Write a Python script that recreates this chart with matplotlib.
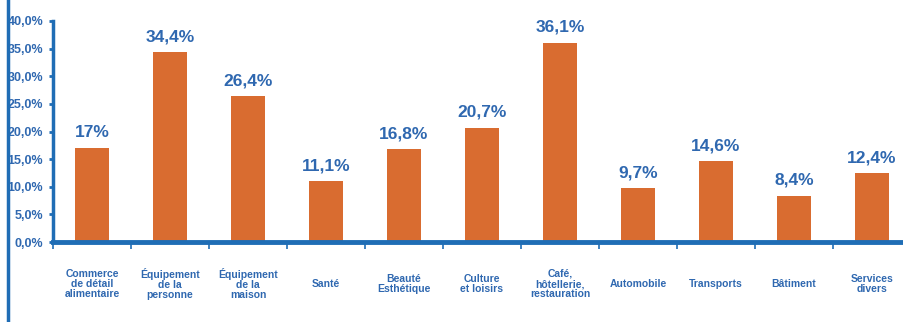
import matplotlib.pyplot as plt
from matplotlib.lines import Line2D
import numpy as np

categories = ['Commerce\nde détail\nalimentaire', 'Équipement\nde la\npersonne', 'Équipement\nde la\nmaison',
              'Santé', 'Beauté\nEsthétique', 'Culture\net loisirs', 'Café,\nhôtellerie,\nrestauration',
              'Automobile', 'Transports', 'Bâtiment', 'Services\ndivers']
values = [17.0, 34.4, 26.4, 11.1, 16.8, 20.7, 36.1, 9.7, 14.6, 8.4, 12.4]
value_labels = ['17%', '34,4%', '26,4%', '11,1%', '16,8%', '20,7%', '36,1%', '9,7%', '14,6%', '8,4%', '12,4%']
yticks = [0, 5, 10, 15, 20, 25, 30, 35, 40]

blue = '#1f6db5'
text_blue = '#2f68b0'
orange = '#d96c30'

plt.rcParams['font.family'] = ['Liberation Sans', 'DejaVu Sans']

fig = plt.figure(figsize=(9.04, 3.22), dpi=100)
ax = fig.add_axes([0.0586, 0.2484, 0.949, 0.6864])

x = np.arange(len(values))
ax.bar(x, values, width=0.44, color=orange, zorder=2)

for xi, v, lab in zip(x, values, value_labels):
    ax.annotate(lab, (xi, v), xytext=(0, 5.5), textcoords='offset points',
                ha='center', va='bottom', fontsize=12.5, fontweight='bold', color=text_blue)

for xi, cat in zip(x, categories):
    ax.text(xi, -0.19, cat, transform=ax.get_xaxis_transform(), ha='center', va='center',
            fontsize=7.5, fontweight='bold', color=text_blue, linespacing=1.05)

ax.set_xlim(-0.5, 10.5)
ax.set_ylim(0, 40)
ax.set_yticks(yticks)
ax.set_yticklabels([f'{t:.1f}%'.replace('.', ',') for t in yticks],
                   fontsize=9, fontweight='bold', color=text_blue)
ax.set_xticks(np.arange(-0.5, 10.5, 1.0))
ax.set_xticklabels([])
ax.tick_params(axis='y', length=3, width=2, color=blue, pad=4, direction='out')
ax.tick_params(axis='x', length=5, width=1.2, color=blue, direction='out')

for s in ['top', 'right']:
    ax.spines[s].set_visible(False)
ax.spines['left'].set_color(blue)
ax.spines['left'].set_linewidth(2.5)
ax.spines['bottom'].set_color(blue)
ax.spines['bottom'].set_linewidth(3.5)

fig.add_artist(Line2D([0.0085, 0.0085], [0, 1], color=blue, linewidth=2.5, transform=fig.transFigure))

fig.savefig('out.png', dpi=100)
